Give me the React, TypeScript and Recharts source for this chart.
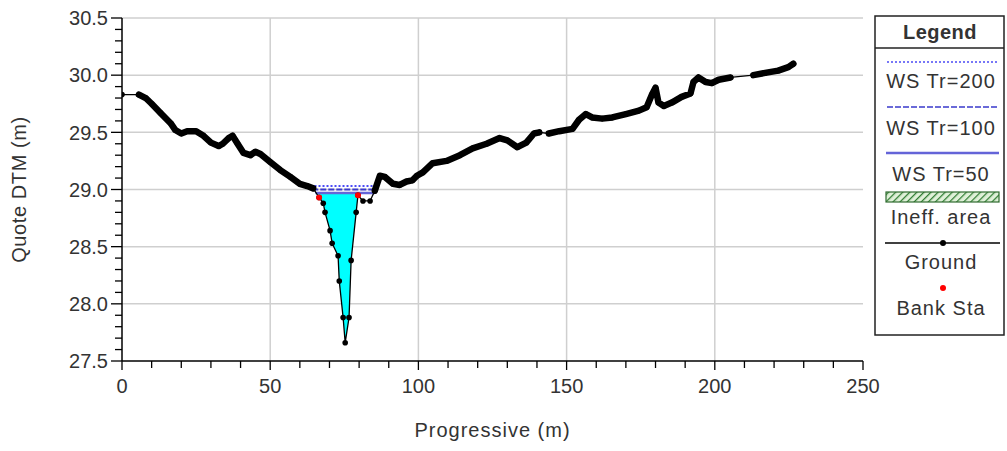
import React from 'react';
import { ComposedChart, Line, Area, XAxis, YAxis, CartesianGrid, Label } from 'recharts';

// Cross-section survey: station along the section (m) and ground elevation (m)
const station = [
  0, 5.7, 8, 10, 13, 16.4, 18, 20, 22, 25, 27.5, 30, 32.6, 34, 36, 37.3, 39, 41, 43.3, 45, 46.7,
  50, 53.4, 56.8, 60, 62.5, 64.5, 66.5, 67.9, 68.5, 70.2, 70.9, 72.9, 73.3, 74.6, 75.3, 76.6, 77.3,
  79.0, 79.6, 81.3, 83.7, 85.3, 87, 88.7, 91.4, 93.7, 96, 98, 99.5, 101.5, 104.8, 109.5, 114,
  118.3, 123, 127.4, 130, 133.4, 136.4, 139, 140.8, 144, 147.5, 152, 154.2, 156.5, 158.6, 162,
  165.4, 170, 174.4, 177, 178.8, 180, 181, 182.8, 185.5, 188.8, 191.8, 192.8, 194.5, 196.9, 199,
  201.3, 205.3, 213, 217, 221.4, 224.8, 226.5,
];
const elevation = [
  29.83, 29.83, 29.8, 29.75, 29.67, 29.58, 29.52, 29.49, 29.51, 29.51, 29.47, 29.41, 29.38, 29.4,
  29.45, 29.47, 29.4, 29.32, 29.3, 29.33, 29.31, 29.24, 29.17, 29.11, 29.05, 29.03, 29.01, 28.93,
  28.88, 28.8, 28.64, 28.53, 28.42, 28.2, 27.88, 27.66, 27.88, 28.38, 28.8, 28.95, 28.9, 28.9,
  28.99, 29.12, 29.11, 29.05, 29.04, 29.07, 29.08, 29.12, 29.15, 29.23, 29.25, 29.3, 29.36, 29.4,
  29.45, 29.43, 29.37, 29.41, 29.49, 29.5, 29.49, 29.51, 29.53, 29.61, 29.66, 29.63, 29.62, 29.63,
  29.66, 29.69, 29.72, 29.83, 29.89, 29.76, 29.73, 29.76, 29.81, 29.84, 29.94, 29.98, 29.94, 29.93,
  29.96, 29.98, 30.0, 30.02, 30.04, 30.07, 30.1,
];

// stretches where the survey points are so close they merge into a heavy band
const denseRuns: [number, number][] = [[5.7, 64.5], [85.3, 140.8], [144, 205.3], [213, 226.5]];

const bankStation = [66.5, 79.6];
const bankElevation = [28.93, 28.95];

// water surface profiles: level and wetted extent
const ws200 = { level: 29.03, from: 63.6, to: 86.2 };
const ws100 = { level: 29.0, from: 64.2, to: 85.8 };
const ws50 = { level: 28.97, from: 65.3, to: 85.3 };
const waterEdges = [65.3, 80.3];

const xTicks = Array.from({ length: 26 }, (_, i) => i * 10);
const yTicks = Array.from({ length: 31 }, (_, i) => +(27.5 + i * 0.1).toFixed(1));
const xGrid = [50, 100, 150, 200];
const yGrid = [28, 28.5, 29, 29.5, 30, 30.5];

const ground = station.map((x, i) => ({ x, y: elevation[i] }));
const denseSegments = denseRuns.map(([a, b]) => ground.filter((p) => p.x >= a && p.x <= b));
const banks = bankStation.map((x, i) => ({ x, y: bankElevation[i] }));

const water = [
  { x: waterEdges[0], range: [ws50.level, ws50.level] },
  ...ground
    .filter((p) => p.x >= bankStation[0] && p.x <= bankStation[1])
    .map((p) => ({ x: p.x, range: [p.y, ws50.level] })),
  { x: waterEdges[1], range: [ws50.level, ws50.level] },
];

const wsLine = (ws: { level: number; from: number; to: number }) => [
  { x: ws.from, y: ws.level },
  { x: ws.to, y: ws.level },
];

const FONT = '"Liberation Sans", Arial, sans-serif';
const TEXT = '#333';

const isMajor = (v: number, step: number) => Math.abs(v / step - Math.round(v / step)) < 1e-6;

const YTick = ({ x, y, payload }: any) => {
  const major = isMajor(payload.value, 0.5);
  return (
    <g>
      <line x1={x - (major ? 11 : 7)} x2={x} y1={y} y2={y} stroke="#000" strokeWidth={1.3} />
      {major && (
        <text x={x - 14} y={y} dy="0.36em" textAnchor="end" fontFamily={FONT} fontSize={20} fill={TEXT}>
          {payload.value.toFixed(1)}
        </text>
      )}
    </g>
  );
};

const XTick = ({ x, y, payload }: any) => {
  const major = isMajor(payload.value, 50);
  return (
    <g>
      <line x1={x} x2={x} y1={y} y2={y + (major ? 9 : 7)} stroke="#000" strokeWidth={1.3} />
      {major && (
        <text x={x} y={y + 32} textAnchor="middle" fontFamily={FONT} fontSize={20} fill={TEXT}>
          {payload.value}
        </text>
      )}
    </g>
  );
};

const LegendBox = () => (
  <svg width={131} height={322} style={{ position: 'absolute', left: 874, top: 15 }}>
    <defs>
      <pattern id="ineff" width={5} height={5} patternUnits="userSpaceOnUse" patternTransform="rotate(45)">
        <rect width={5} height={5} fill="#dff0d8" />
        <line x1={0} y1={0} x2={0} y2={5} stroke="#2f7d32" strokeWidth={2.5} />
      </pattern>
    </defs>
    <rect x={1} y={1} width={129} height={319} fill="#fff" stroke="#222" strokeWidth={1.5} />
    <line x1={1} x2={130} y1={33} y2={33} stroke="#222" strokeWidth={1.5} />
    <g fontFamily={FONT} fontSize={20} fill={TEXT} textAnchor="middle" letterSpacing={1}>
      <text x={66} y={23.5} fontWeight="bold" fontSize={20} letterSpacing={0.5}>Legend</text>
      <line x1={13} x2={124} y1={47} y2={47} stroke="#4b4bf5" strokeWidth={1.6} strokeDasharray="2 2" />
      <text x={67} y={73}>WS Tr=200</text>
      <line x1={13} x2={124} y1={92} y2={92} stroke="#3a3acc" strokeWidth={1.6} strokeDasharray="6 2" />
      <text x={67} y={120}>WS Tr=100</text>
      <line x1={12} x2={125} y1={138} y2={138} stroke="#6464d8" strokeWidth={2.5} />
      <text x={67} y={166}>WS Tr=50</text>
      <rect x={12} y={177} width={113} height={10} fill="url(#ineff)" stroke="#2f6b2f" strokeWidth={1.2} />
      <text x={67} y={209}>Ineff. area</text>
      <line x1={11} x2={126} y1={228} y2={228} stroke="#000" strokeWidth={1.3} />
      <circle cx={69} cy={228} r={3} fill="#000" />
      <text x={67} y={254}>Ground</text>
      <circle cx={69} cy={273} r={3} fill="#ff0000" />
      <text x={67} y={300}>Bank Sta</text>
    </g>
  </svg>
);

export default function App() {
  return (
    <div style={{ position: 'fixed', left: 0, top: 0, width: 1007, height: 451, background: '#fff' }}>
      <ComposedChart width={1007} height={451} margin={{ top: 18, right: 144, left: 0, bottom: 0 }}>
        <CartesianGrid
          horizontalValues={yGrid}
          verticalValues={xGrid}
          stroke="#cfcfcf"
          strokeWidth={1.5}
        />
        <XAxis
          dataKey="x"
          type="number"
          domain={[0, 250]}
          ticks={xTicks}
          interval={0}
          allowDataOverflow
          height={90}
          tickSize={0}
          tickMargin={0}
          tickLine={false}
          tick={<XTick />}
          axisLine={{ stroke: '#000', strokeWidth: 1.5 }}
        >
          <Label
            content={({ viewBox }: any) => (
              <text
                x={viewBox.x + viewBox.width / 2}
                y={viewBox.y + 76}
                textAnchor="middle"
                fontFamily={FONT}
                fontSize={20}
                letterSpacing={1}
                fill={TEXT}
              >
                Progressive (m)
              </text>
            )}
          />
        </XAxis>
        <YAxis
          type="number"
          domain={[27.5, 30.5]}
          ticks={yTicks}
          interval={0}
          allowDataOverflow
          width={122}
          tickSize={0}
          tickMargin={0}
          tickLine={false}
          tick={<YTick />}
          axisLine={{ stroke: '#000', strokeWidth: 1.5 }}
        >
          <Label
            content={({ viewBox }: any) => (
              <text
                x={0}
                y={0}
                transform={`translate(26, ${viewBox.y + viewBox.height / 2}) rotate(-90)`}
                textAnchor="middle"
                fontFamily={FONT}
                fontSize={20}
                letterSpacing={0.6}
                fill={TEXT}
              >
                Quote DTM (m)
              </text>
            )}
          />
        </YAxis>

        <Area
          data={water}
          dataKey="range"
          type="linear"
          fill="#00ffff"
          fillOpacity={1}
          stroke="none"
          isAnimationActive={false}
        />
        <Line data={wsLine(ws50)} dataKey="y" stroke="#6464d8" strokeWidth={2.5} dot={false} isAnimationActive={false} />
        <Line data={wsLine(ws100)} dataKey="y" stroke="#3a3acc" strokeWidth={2} strokeDasharray="6 2" dot={false} isAnimationActive={false} />
        <Line data={wsLine(ws200)} dataKey="y" stroke="#4b4bf5" strokeWidth={2} strokeDasharray="2 2" dot={false} isAnimationActive={false} />

        {denseSegments.map((seg, i) => (
          <Line
            key={i}
            data={seg}
            dataKey="y"
            stroke="#000"
            strokeWidth={6.5}
            strokeLinejoin="round"
            strokeLinecap="round"
            dot={false}
            isAnimationActive={false}
          />
        ))}
        <Line
          data={ground}
          dataKey="y"
          stroke="#000"
          strokeWidth={1.3}
          dot={{ r: 2.8, fill: '#000', stroke: 'none' }}
          isAnimationActive={false}
        />
        <Line
          data={banks}
          dataKey="y"
          stroke="none"
          dot={{ r: 3, fill: '#ff0000', stroke: 'none' }}
          isAnimationActive={false}
        />
      </ComposedChart>
      <LegendBox />
    </div>
  );
}
